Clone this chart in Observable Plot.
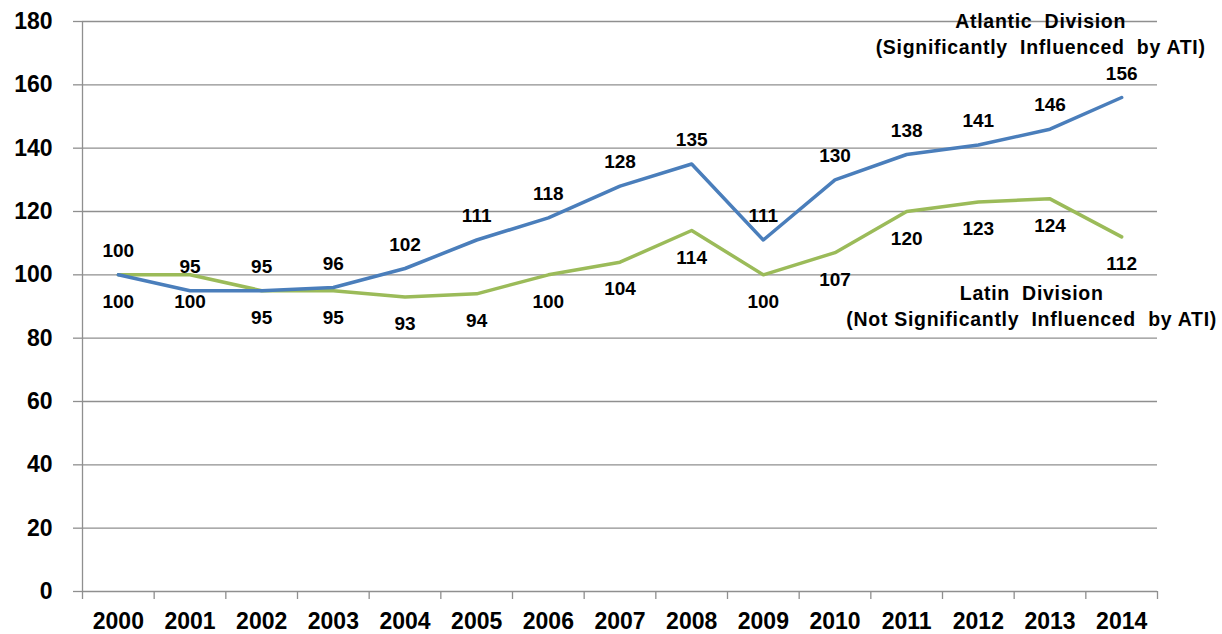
<!DOCTYPE html>
<html><head><meta charset="utf-8">
<script src="https://cdn.jsdelivr.net/npm/d3@7"></script>
<script src="https://cdn.jsdelivr.net/npm/@observablehq/plot@0.6"></script>
<style>
body{margin:0;background:#fff;}
#chart svg{overflow:visible;display:block}
#chart g[font-size="19.5"]{letter-spacing:0.7px}
</style></head><body><div id="chart"></div>
<script>
const years = [2000,2001,2002,2003,2004,2005,2006,2007,2008,2009,2010,2011,2012,2013,2014];
const atlantic = [100,95,95,96,102,111,118,128,135,111,130,138,141,146,156];
const latin = [100,100,95,95,93,94,100,104,114,100,107,120,123,124,112];
const yTicks = [0,20,40,60,80,100,120,140,160,180];
const atlanticLabel = "Atlantic\u00a0 Division\n(Significantly\u00a0 Influenced\u00a0 by ATI)";
const latinLabel = "Latin\u00a0 Division\n(Not Significantly\u00a0 Influenced\u00a0 by ATI)";

const rows = years.map((year, i) => ({year, atlantic: atlantic[i], latin: latin[i]}));
const boundaries = [...years.map(y => y - 0.5), years[years.length - 1] + 0.5];

const font = "'Liberation Sans', Arial, sans-serif";
const gridColor = "#8f8f8f";
const lblStyle = {fontSize: 19, fontWeight: "bold", fill: "#000"};
const annStyle = {fontSize: 19.5, fontWeight: "bold", fill: "#000"};

const plot = Plot.plot({
  width: 1222, height: 634,
  marginLeft: 82, marginRight: 65, marginTop: 21, marginBottom: 43,
  style: {fontFamily: font, background: "#fff", color: "#000"},
  x: {type: "linear", domain: [boundaries[0], boundaries[boundaries.length - 1]]},
  y: {domain: [0, 180]},
  marks: [
    Plot.gridY(yTicks, {stroke: gridColor, strokeOpacity: 1, strokeWidth: 1.3}),
    Plot.axisY(yTicks, {tickSize: 9, tickPadding: 21, stroke: gridColor, strokeWidth: 1.3, fontSize: 23, fontWeight: "bold", label: null}),
    Plot.ruleX(boundaries.slice(0, 1), {stroke: gridColor, strokeWidth: 1.3}),
    Plot.axisX(boundaries, {tickSize: 8, tickFormat: () => "", stroke: gridColor, strokeWidth: 1.3, label: null}),
    Plot.axisX(years, {tickSize: 0, tickPadding: 21, tickFormat: d => String(d), fontSize: 23, fontWeight: "bold", label: null}),
    Plot.line(rows, {x: "year", y: "latin", stroke: "#9bbb59", strokeWidth: 3.5}),
    Plot.line(rows, {x: "year", y: "atlantic", stroke: "#4a7ebb", strokeWidth: 3.5}),
    Plot.text(rows, {x: "year", y: "atlantic", text: "atlantic", dy: -24, ...lblStyle}),
    Plot.text(rows, {x: "year", y: "latin", text: "latin", dy: 27, ...lblStyle}),
    Plot.text(rows.slice(-1), {x: "year", y: "atlantic", text: () => atlanticLabel, dx: -81, dy: -65, lineHeight: 1.35, ...annStyle}),
    Plot.text(rows.slice(-1), {x: "year", y: "latin", text: () => latinLabel, dx: -90, dy: 68, lineHeight: 1.3, ...annStyle})
  ]
});
document.getElementById("chart").appendChild(plot);
</script>
</body></html>
